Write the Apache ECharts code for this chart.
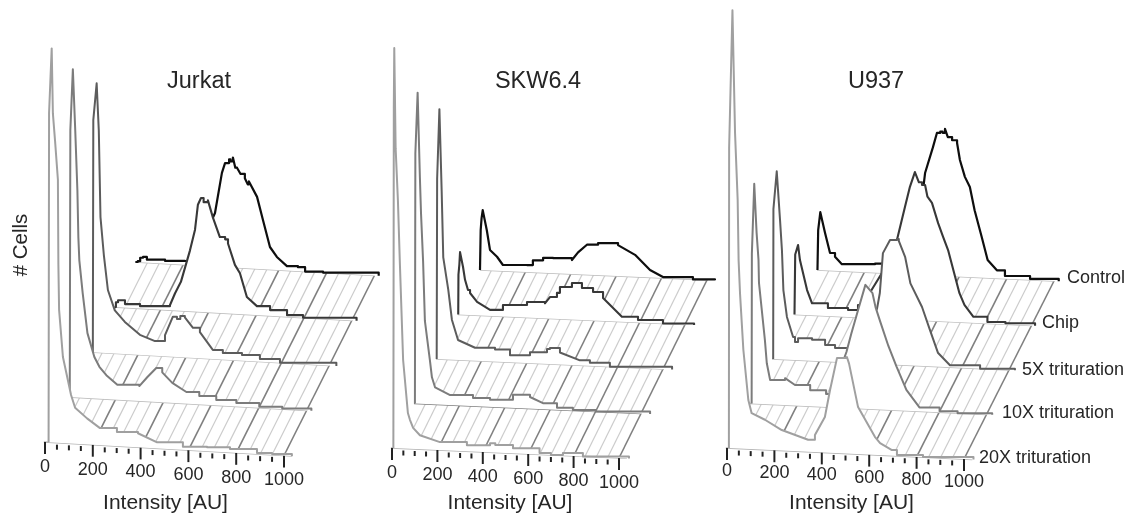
<!DOCTYPE html>
<html>
<head>
<meta charset="utf-8">
<title>Intensity histograms</title>
<style>
html,body{margin:0;padding:0;background:#fff;}
#main{width:1129px;height:514px;}
</style>
<script src="https://cdn.jsdelivr.net/npm/echarts@6/dist/echarts.min.js"></script>
</head>
<body>
<div id="main"></div>
<script>
// tick labels and legend
var tickValues=[0,200,400,600,800,1000];
var sampleNames=['20X trituration','10X trituration','5X trituration','Chip','Control'];

// each trace is [intensity, cells], back row is Control
var jurkatControl=[[0,0],[10,1],[20,4.5],[32,5.5],[48,3],[124,2.7],[207,3.8],[224,5],[240,7],[283,26],[333,53.5],[362,94],[375,104],[392,108],[398,106],[408,110],[418,100],[425,100],[440,94],[458,90],[470,84],[475,87],[509,72],[534,49],[563,22.6],[592,13],[634,4.5],[680,4],[710,0],[785,0],[1018,0]];
var jurkatChip=[[8,0],[13,5],[22,7],[51,3.6],[114,2.4],[239,5],[260,17],[285,29],[323,61],[344,82],[356,107],[369,114],[380,110],[398,112],[419,95],[448,76],[470,74],[482,70],[511,49],[532,41],[561,17.5],[603,9],[658,5.8],[729,1.7],[796,0],[1020,0]];
var jurkat5X=[[11,0],[13,232],[27,269],[36,222],[43,135.5],[57,98],[74,63],[103,43],[145,32],[208,20],[271,14.6],[313,21],[346,40],[363,38],[377,41],[396,40],[430,30],[459,26],[513,9],[555,6.4],[635,5.5],[710,2.5],[794,0],[1030,0]];
var jurkat10X=[[9,0],[11.5,267],[22,328],[32,267],[41,207],[45,160.5],[49,137.6],[63,105],[83,65],[112,41.5],[133,32],[162,24],[208,15],[300,15],[334,24.5],[371,34],[396,30],[438,20],[497,11.7],[551,8.4],[622,5.4],[706,3.5],[802,1],[898,0.5],[1020,0]];
var jurkat20X=[[15,0],[17,329],[28,394],[33,329],[42,302],[54,263],[56,178],[59,133],[75,86],[109,48.5],[126,36],[176,26],[230,17],[301,14],[389,14],[469,6],[577,3],[678,4],[774,3.4],[887,1],[950,0.8],[1033,0]];

var skwControl=[[0,0],[3,40],[7,52],[12,60],[30,40],[44,20.5],[75,14],[101,6],[207,7],[233,12],[278,15],[322,15],[405,14],[432,22],[471,30],[520,32],[608,31],[683,22],[749,7.5],[806,1],[938,0],[1035,0]];
var skwChip=[[1,0],[2,40],[6,50],[9,62.5],[22,48],[31,35],[44,25],[53,22],[84,13.5],[141,6],[198,11.5],[304,15.5],[383,15],[405,21.5],[436,26],[449,32],[502,36.5],[546,32],[595,28.5],[639,23],[722,5],[793,2.5],[903,0],[1040,0]];
var skw5X=[[3,0],[5,180],[15,250],[25,168],[32,102],[54,70],[70,40],[97,20],[172,13],[260,12],[326,7],[414,11],[489,15],[502,16],[546,12],[634,5],[678,3],[766,0],[1040,0]];
var skw10X=[[4,0],[6,250],[16,311],[26,226],[31,190],[40,143],[48,83],[70,44],[79,27],[93,17],[159,10],[260,8],[335,7],[436,13],[511,11.6],[568,6],[630,2],[700,0.5],[800,0],[1040,0]];
var skw20X=[[6,0],[8,340],[10,400],[16,300],[26,248],[35,183],[49,88.5],[70,35.7],[79,29],[93,21],[123,14],[211,8],[330,6],[418,7],[432,9],[455,7.5],[533,5],[650,1.5],[700,0],[753,2.5],[841,0],[1044,0]];

var u937Control=[[2,0],[5,40],[14,58],[34,37.4],[55,17.6],[76,14],[105,7],[245,9],[274,9],[320,25],[375,50],[450,90],[456,102],[489,128],[506,142.6],[520,144],[530,143],[540,147],[552,139],[570,136],[591,133.5],[603,116.6],[624,100],[645,90],[665,67],[695,40.6],[720,18],[759,8],[793,2.7],[899,1],[1020,0]];
var u937Chip=[[0,0],[3,60],[15,69.7],[23,54.7],[53,25],[74,12],[141,8],[226,7],[268,12.5],[300,18],[380,50],[432,79],[466,112.6],[487,133],[508,148],[525,138],[538,135.4],[551,135.6],[561,124],[580,118],[606,98],[627,84.5],[648,71.6],[696,29],[717,17.5],[755,6],[814,1.5],[890,1],[1015,0]];
var u9375X=[[5,0],[6,150],[20,188],[34,139],[42,109],[48,69.5],[63,42.7],[89,23],[97,18],[110,22],[169,21],[224,16.5],[266,14],[321,15],[380,25],[443,55],[455,71],[468,111],[498,124.5],[527,125.8],[535,124],[562,108],[584,82],[633,59],[667,36],[700,14],[751,2],[878,0],[1025,0]];
var u93710X=[[9,0],[10,150],[20,220],[30,171],[38,144],[40,121],[65,64],[73,41],[87,24.5],[150,27],[192,20.6],[256,16],[323,13],[340,15],[373,32],[409,56],[430,75],[460,100],[489,124],[519,116],[532,102],[553,87],[586,64],[620,44],[662,21],[717,4],[802,1],[878,0],[1024,0]];
var u93720X=[[8,0],[9,300],[23,438],[34,315],[45,248.5],[49,188],[55,155],[69,99],[90,49],[104,36],[160,30],[231,20.5],[342,12],[371,17],[413,35.5],[435,63],[464,95],[506,96.6],[515,90],[553,47],[624,18],[646,12],[696,5.6],[717,1],[827,0],[1040,0]];

var traceColors=['#a0a0a0','#7c7c7c','#5c5c5c','#383838','#0e0e0e'];
var traceWidths=[2,2,2,2.1,2.2];

// oblique projection of every panel: origin, 1000 AU vector, one row of depth
var panels=[
	{title:'Jurkat',ox:45,oy:442,ax:239,ay:13.5,dx:22.6,dy:-45,labelDy:25,traces:[jurkat20X,jurkat10X,jurkat5X,jurkatChip,jurkatControl]},
	{title:'SKW6.4',ox:392,oy:448,ax:227,ay:10,dx:22,dy:-44.5,labelDy:25,darkRow:1,traces:[skw20X,skw10X,skw5X,skwChip,skwControl]},
	{title:'U937',ox:727,oy:448,ax:237,ay:11,dx:22.5,dy:-44.5,labelDy:23,traces:[u93720X,u93710X,u9375X,u937Chip,u937Control]}
];

function project(p,row,intensity,cells){
	return [p.ox+row*p.dx+intensity/1000*p.ax, p.oy+row*p.dy+intensity/1000*p.ay-cells];
}

// straight segments, one data row per segment
function segmentSeries(rows,z){
	return {
		type:'custom',silent:true,z:z,animation:false,
		data:rows,
		renderItem:function(params,api){
			var a=api.coord([api.value(0),api.value(1)]);
			var b=api.coord([api.value(2),api.value(3)]);
			var r=rows[params.dataIndex];
			return {type:'line',shape:{x1:a[0],y1:a[1],x2:b[0],y2:b[1]},style:{stroke:r[4],lineWidth:r[5]}};
		}
	};
}

// histogram bins: shallow stretches are drawn as steps
function toSteps(rows){
	var out=[rows[0]];
	for(var i=1;i<rows.length;i++){
		if(Math.abs(rows[i][1]-rows[i-1][1])<6) out.push([rows[i][0],rows[i-1][1]]);
		out.push(rows[i]);
	}
	return out;
}

// white area under the curve so it hides the rows behind, then the curve
function traceSeries(p,row,z){
	var trace=p.traces[row];
	var rows=toSteps(trace.map(function(d){return project(p,row,d[0],d[1]);}));
	return {
		type:'custom',silent:true,z:z,animation:false,
		data:[0],
		renderItem:function(params,api){
			var pts=rows.map(function(d){return api.coord(d);});
			return {type:'group',children:[
				{type:'polygon',shape:{points:pts},style:{fill:'#fff',stroke:null}},
				{type:'polyline',shape:{points:pts},style:{fill:null,stroke:traceColors[row],lineWidth:traceWidths[row],lineJoin:'round'}}
			]};
		}
	};
}

function labelSeries(p,z){
	var rows=tickValues.map(function(v){
		var c=project(p,0,v,0);
		return [c[0],c[1]+p.labelDy,String(v)];
	});
	return {
		type:'custom',silent:true,z:z,animation:false,
		data:rows,
		renderItem:function(params,api){
			var c=api.coord([api.value(0),api.value(1)]);
			return {type:'text',style:{x:c[0],y:c[1],text:rows[params.dataIndex][2],font:'18px "Liberation Sans", Arial, sans-serif',fill:'#262626',align:'center',verticalAlign:'middle'}};
		}
	};
}

var series=[];
panels.forEach(function(p){
	var hatch=[],dark=[],ticks=[],rowsLines=[];
	for(var i=50;i<=1000;i+=50){
		var a=project(p,0,i,0),b=project(p,4,i,0);
		if(i%200==0) dark.push([a[0],a[1],b[0],b[1],'#808080',1.6]);
		else hatch.push([a[0],a[1],b[0],b[1],'#cccccc',1.2]);
	}
	for(var r=1;r<5;r++){
		var s=project(p,r,0,0),e=project(p,r,1000,0);
		rowsLines.push([s[0],s[1],e[0],e[1],p.darkRow==r?'#808080':'#bdbdbd',p.darkRow==r?1.5:1.3]);
	}
	// axis and its ticks
	var a0=project(p,0,-5,0),a1=project(p,0,1035,0);
	ticks.push([a0[0],a0[1],a1[0],a1[1],'#b4b4b4',1.5]);
	for(var t=0;t<=1000;t+=50){
		var u=project(p,0,t,0),big=t%200==0;
		ticks.push([u[0],u[1]+(big?0:2),u[0],u[1]+(big?12:7),'#222222',2]);
	}
	series.push(segmentSeries(hatch,2));
	series.push(segmentSeries(dark,3));
	series.push(segmentSeries(rowsLines,4));
	series.push(segmentSeries(ticks,5));
	for(var k=4;k>=0;k--) series.push(traceSeries(p,k,10+(4-k)));
	series.push(labelSeries(p,20));
});

function txt(text,x,y,size,align,rotation){
	return {type:'text',x:x,y:y,rotation:rotation||0,silent:true,
		style:{text:text,font:size+'px "Liberation Sans", Arial, sans-serif',fill:'#262626',textAlign:align||'center',textVerticalAlign:'middle'}};
}

var graphics=[
	txt('Jurkat',199,82,23.5),
	txt('SKW6.4',538,82,23.5),
	txt('U937',876,82,23.5),
	txt('Intensity [AU]',165.5,503,21),
	txt('Intensity [AU]',510,503,21),
	txt('Intensity [AU]',851.5,503,21),
	txt('# Cells',21,245,20.5,'center',Math.PI/2),
	txt(sampleNames[4],1067,278,18,'left'),
	txt(sampleNames[3],1042,323,18,'left'),
	txt(sampleNames[2],1022,370,18,'left'),
	txt(sampleNames[1],1002,413,18,'left'),
	txt(sampleNames[0],979,458,18,'left')
];

var myChart=echarts.init(document.getElementById('main'));
myChart.setOption({
	animation:false,
	backgroundColor:'#fff',
	grid:{left:0,right:0,top:0,bottom:0},
	xAxis:{type:'value',min:0,max:1129,show:false},
	yAxis:{type:'value',min:0,max:514,inverse:true,show:false},
	graphic:graphics,
	series:series
});
</script>
</body>
</html>
